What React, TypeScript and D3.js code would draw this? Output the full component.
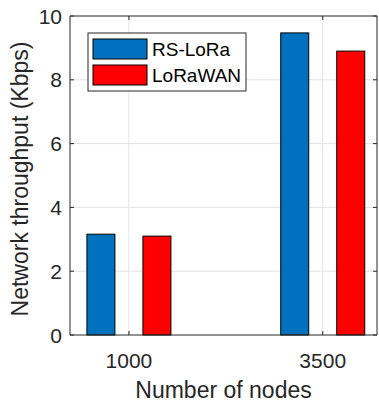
import React, { useEffect, useRef } from 'react';
import * as d3 from 'd3';

const categories = [1000, 3500];
const seriesNames = ['RS-LoRa', 'LoRaWAN'];
const seriesColors = ['#0072BD', '#FF0000'];
const rsLoRa = [3.16, 9.47];
const loRaWAN = [3.1, 8.9];
const yTicks = [0, 2, 4, 6, 8, 10];

const App: React.FC = () => {
  const svgRef = useRef<SVGSVGElement>(null);

  useEffect(() => {
    const width = 379;
    const height = 403;
    const margin = { top: 16, right: 2, bottom: 68, left: 70 };
    const font = 'Liberation Sans, Arial, Helvetica, sans-serif';
    const ink = '#262626';

    const svg = d3.select(svgRef.current)
      .attr('width', width)
      .attr('height', height)
      .style('position', 'absolute')
      .style('left', 0)
      .style('top', 0);
    svg.selectAll('*').remove();

    const x0 = margin.left;
    const x1 = width - margin.right;
    const y0 = height - margin.bottom;
    const y1 = margin.top;

    const xScale = d3.scaleLinear().domain([240, 4200]).range([x0, x1]);
    const yScale = d3.scaleLinear().domain([0, 10]).range([y0, y1]);

    // grid
    svg.append('g').selectAll('line.gy')
      .data(yTicks.filter(t => t > 0 && t < 10))
      .enter().append('line')
      .attr('x1', x0).attr('x2', x1)
      .attr('y1', d => yScale(d)).attr('y2', d => yScale(d))
      .attr('stroke', '#e3e3e3').attr('stroke-width', 1);
    svg.append('g').selectAll('line.gx')
      .data(categories)
      .enter().append('line')
      .attr('x1', d => xScale(d)).attr('x2', d => xScale(d))
      .attr('y1', y1).attr('y2', y0)
      .attr('stroke', '#e3e3e3').attr('stroke-width', 1);

    // bars
    const barW = 28;
    const offset = 28;
    const series = [rsLoRa, loRaWAN];
    series.forEach((vals, si) => {
      svg.append('g').selectAll('rect')
        .data(vals)
        .enter().append('rect')
        .attr('x', (d, i) => xScale(categories[i]) + (si === 0 ? -offset : offset) - barW / 2)
        .attr('y', d => yScale(d))
        .attr('width', barW)
        .attr('height', d => y0 - yScale(d))
        .attr('fill', seriesColors[si])
        .attr('stroke', '#000')
        .attr('stroke-width', 1);
    });

    // axes box
    svg.append('line').attr('x1', x0).attr('x2', x1).attr('y1', y0).attr('y2', y0)
      .attr('stroke', ink).attr('stroke-width', 1);
    svg.append('line').attr('x1', x0).attr('x2', x1).attr('y1', y1).attr('y2', y1)
      .attr('stroke', ink).attr('stroke-width', 1);
    svg.append('line').attr('x1', x0).attr('x2', x0).attr('y1', y1).attr('y2', y0)
      .attr('stroke', ink).attr('stroke-width', 1);
    svg.append('line').attr('x1', x1).attr('x2', x1).attr('y1', y1).attr('y2', y0)
      .attr('stroke', ink).attr('stroke-width', 1);

    // y ticks
    const yt = svg.append('g');
    yTicks.forEach(t => {
      const y = yScale(t);
      yt.append('line').attr('x1', x0).attr('x2', x0 + 4).attr('y1', y).attr('y2', y).attr('stroke', ink);
      yt.append('line').attr('x1', x1).attr('x2', x1 - 4).attr('y1', y).attr('y2', y).attr('stroke', ink);
      yt.append('text')
        .attr('x', x0 - 8).attr('y', y)
        .attr('dy', '0.36em')
        .attr('text-anchor', 'end')
        .attr('font-family', font).attr('font-size', 21)
        .attr('fill', ink)
        .text(t);
    });

    // x ticks
    const xt = svg.append('g');
    categories.forEach(c => {
      const x = xScale(c);
      xt.append('line').attr('x1', x).attr('x2', x).attr('y1', y0).attr('y2', y0 - 4).attr('stroke', ink);
      xt.append('line').attr('x1', x).attr('x2', x).attr('y1', y1).attr('y2', y1 + 4).attr('stroke', ink);
      xt.append('text')
        .attr('x', x).attr('y', 368)
        .attr('text-anchor', 'middle')
        .attr('font-family', font).attr('font-size', 21)
        .attr('fill', ink)
        .text(c);
    });

    // axis titles
    svg.append('text')
      .attr('x', (x0 + x1) / 2).attr('y', 398)
      .attr('text-anchor', 'middle')
      .attr('font-family', font).attr('font-size', 23)
      .attr('fill', ink)
      .text('Number of nodes');
    svg.append('text')
      .attr('transform', `translate(28, 179) rotate(-90)`)
      .attr('text-anchor', 'middle')
      .attr('font-family', font).attr('font-size', 23)
      .attr('fill', ink)
      .text('Network throughput (Kbps)');

    // legend
    const lg = svg.append('g');
    lg.append('rect')
      .attr('x', 88).attr('y', 33).attr('width', 158).attr('height', 58)
      .attr('fill', '#fff').attr('stroke', ink).attr('stroke-width', 1);
    seriesNames.forEach((name, i) => {
      const yy = 39 + i * 26;
      lg.append('rect')
        .attr('x', 93).attr('y', yy).attr('width', 54).attr('height', 20)
        .attr('fill', seriesColors[i]).attr('stroke', '#000').attr('stroke-width', 1);
      lg.append('text')
        .attr('x', 152).attr('y', yy + 10)
        .attr('dy', '0.36em')
        .attr('font-family', font).attr('font-size', 19)
        .attr('fill', '#000')
        .text(name);
    });
  }, []);

  return <svg ref={svgRef}></svg>;
};

export default App;
